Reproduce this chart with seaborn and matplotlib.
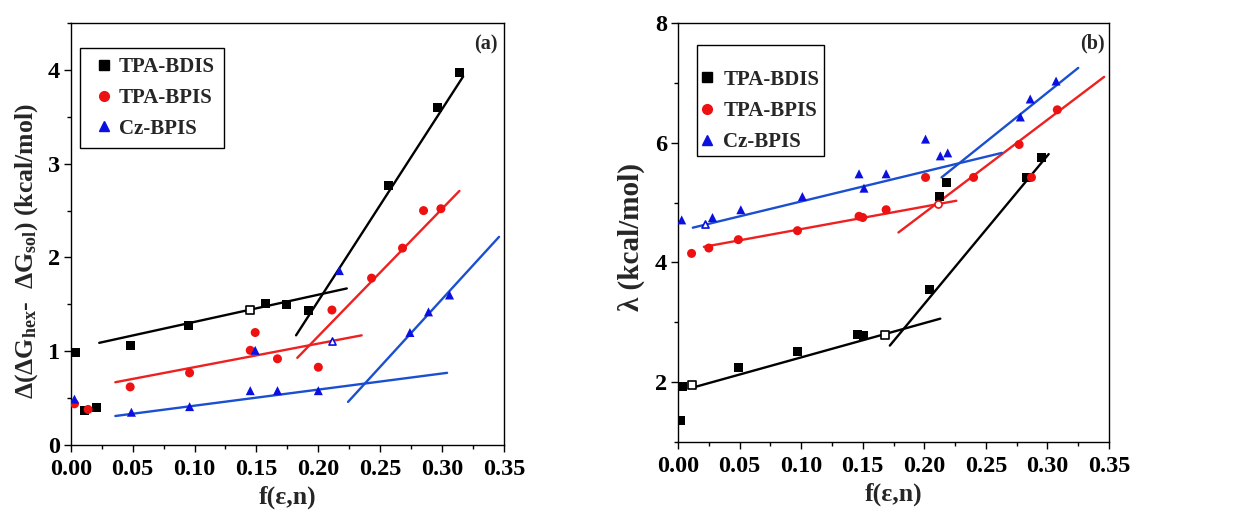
import numpy as np
import pandas as pd
import matplotlib
matplotlib.use("Agg")
import matplotlib.pyplot as plt
from matplotlib.lines import Line2D
from matplotlib.ticker import MultipleLocator
import seaborn as sns

sns.set_theme(style="ticks")
plt.rcParams['font.family'] = ['Liberation Serif', 'DejaVu Serif']
plt.rcParams['font.weight'] = 'bold'
plt.rcParams['axes.labelweight'] = 'bold'
plt.rcParams['mathtext.fontset'] = 'custom'
plt.rcParams['mathtext.rm'] = 'Liberation Serif:bold'
plt.rcParams['mathtext.bf'] = 'Liberation Serif:bold'
plt.rcParams['mathtext.it'] = 'Liberation Serif:bold:italic'

series_names = ["TPA-BDIS", "TPA-BPIS", "Cz-BPIS"]
marker_colors = ["#000000", "#ee1111", "#0a10e0"]
line_colors = ["#000000", "#ee2020", "#1a4fd0"]
markers = ["s", "o", "^"]

# ---------------- Panel (a) data ----------------
a_bdis_x = [0.0035, 0.011, 0.021, 0.048, 0.095, 0.157, 0.174, 0.192, 0.257, 0.296, 0.314]
a_bdis_y = [0.99, 0.37, 0.40, 1.06, 1.28, 1.51, 1.50, 1.43, 2.77, 3.60, 3.97]
a_bpis_x = [0.003, 0.014, 0.048, 0.096, 0.145, 0.149, 0.167, 0.200, 0.211, 0.243, 0.268, 0.285, 0.299]
a_bpis_y = [0.44, 0.38, 0.62, 0.77, 1.01, 1.20, 0.92, 0.83, 1.44, 1.78, 2.10, 2.50, 2.52]
a_cz_x = [0.003, 0.049, 0.096, 0.145, 0.149, 0.167, 0.200, 0.217, 0.274, 0.289, 0.306]
a_cz_y = [0.49, 0.35, 0.41, 0.58, 1.01, 0.58, 0.58, 1.86, 1.20, 1.42, 1.60]
# hollow points (a)
a_open_series = ["TPA-BDIS", "Cz-BPIS"]
a_open_x = [0.145, 0.211]
a_open_y = [1.44, 1.11]
# fitted segments (a): start/end values
a_fit_series = ["TPA-BDIS", "TPA-BDIS", "TPA-BPIS", "TPA-BPIS", "Cz-BPIS", "Cz-BPIS"]
a_fit_x0 = [0.023, 0.182, 0.036, 0.183, 0.036, 0.224]
a_fit_x1 = [0.223, 0.317, 0.235, 0.314, 0.304, 0.346]
a_fit_y0 = [1.09, 1.17, 0.67, 0.93, 0.31, 0.46]
a_fit_y1 = [1.67, 3.93, 1.17, 2.71, 0.77, 2.22]

# ---------------- Panel (b) data ----------------
b_bdis_x = [0.0024, 0.004, 0.049, 0.097, 0.146, 0.151, 0.204, 0.212, 0.218, 0.283, 0.295]
b_bdis_y = [1.35, 1.93, 2.24, 2.51, 2.79, 2.78, 3.54, 5.10, 5.33, 5.42, 5.76]
b_bpis_x = [0.011, 0.025, 0.049, 0.097, 0.147, 0.150, 0.169, 0.201, 0.240, 0.277, 0.287, 0.308]
b_bpis_y = [4.15, 4.24, 4.38, 4.53, 4.77, 4.75, 4.88, 5.42, 5.42, 5.97, 5.42, 6.55]
b_cz_x = [0.003, 0.028, 0.051, 0.101, 0.147, 0.151, 0.169, 0.201, 0.213, 0.219, 0.278, 0.286, 0.307]
b_cz_y = [4.71, 4.75, 4.88, 5.10, 5.48, 5.24, 5.48, 6.06, 5.78, 5.83, 6.43, 6.73, 7.03]
# hollow points (b)
b_open_series = ["TPA-BDIS", "TPA-BDIS", "TPA-BPIS", "Cz-BPIS"]
b_open_x = [0.011, 0.168, 0.211, 0.022]
b_open_y = [1.95, 2.79, 4.98, 4.64]
# fitted segments (b)
b_fit_series = ["TPA-BDIS", "TPA-BDIS", "TPA-BPIS", "TPA-BPIS", "Cz-BPIS", "Cz-BPIS"]
b_fit_x0 = [0.014, 0.172, 0.021, 0.179, 0.012, 0.214]
b_fit_x1 = [0.213, 0.301, 0.226, 0.346, 0.263, 0.325]
b_fit_y0 = [1.92, 2.61, 4.26, 4.50, 4.58, 5.42]
b_fit_y1 = [3.06, 5.81, 5.03, 7.10, 5.83, 7.25]

x_ticks = [0.00, 0.05, 0.10, 0.15, 0.20, 0.25, 0.30, 0.35]
x_tick_labels = ["0.00", "0.05", "0.10", "0.15", "0.20", "0.25", "0.30", "0.35"]
a_y_ticks = [0, 1, 2, 3, 4]
b_y_ticks = [2, 4, 6, 8]

pal_m = dict(zip(series_names, marker_colors))
pal_l = dict(zip(series_names, line_colors))
mk = dict(zip(series_names, markers))


def points_df(xs, ys):
    rows = []
    for name, x, y in zip(series_names, xs, ys):
        for xi, yi in zip(x, y):
            rows.append((name, xi, yi))
    return pd.DataFrame(rows, columns=["series", "x", "y"])


def fit_df(series, x0, x1, y0, y1):
    rows = []
    for i, (s, a, b, c, d) in enumerate(zip(series, x0, x1, y0, y1)):
        rows.append((s, i, a, c))
        rows.append((s, i, b, d))
    return pd.DataFrame(rows, columns=["series", "seg", "x", "y"])


fig = plt.figure(figsize=(12.35, 5.23), dpi=100)
axA = fig.add_axes([0.0573, 0.149, 0.3508, 0.807])
axB = fig.add_axes([0.549, 0.155, 0.349, 0.801])

panels = [
    dict(ax=axA,
         pdf=points_df([a_bdis_x, a_bpis_x, a_cz_x], [a_bdis_y, a_bpis_y, a_cz_y]),
         fdf=fit_df(a_fit_series, a_fit_x0, a_fit_x1, a_fit_y0, a_fit_y1),
         opens=(a_open_series, a_open_x, a_open_y), ylim=(0, 4.5), yt=a_y_ticks,
         yminor=0.5, ylabel=r"Δ(ΔG$_{\mathrm{hex}}$-  ΔG$_{\mathrm{sol}}$) (kcal/mol)",
         ylsize=18.5, ylc=(-0.071, 0.46), tag="(a)", tagx=0.985,
         legpos=(0.021, 0.941), lspace=0.51, bpad=0.45, hlen=1.4, htp=0.02,
         title=None, tsize=None),
    dict(ax=axB,
         pdf=points_df([b_bdis_x, b_bpis_x, b_cz_x], [b_bdis_y, b_bpis_y, b_cz_y]),
         fdf=fit_df(b_fit_series, b_fit_x0, b_fit_x1, b_fit_y0, b_fit_y1),
         opens=(b_open_series, b_open_x, b_open_y), ylim=(1, 8), yt=b_y_ticks,
         yminor=1, ylabel="λ (kcal/mol)",
         ylsize=21, ylc=(-0.076, 0.49), tag="(b)", tagx=0.99,
         legpos=(0.045, 0.947), lspace=0.54, bpad=0.2, hlen=0.5, htp=0.55,
         title=" ", tsize=7),
]

for p in panels:
    ax = p["ax"]
    sns.lineplot(data=p["fdf"], x="x", y="y", hue="series", units="seg", estimator=None,
                 palette=pal_l, sort=False, legend=False, linewidth=1.7, ax=ax)
    sns.scatterplot(data=p["pdf"], x="x", y="y", hue="series", style="series",
                    palette=pal_m, markers=mk, s=42, linewidth=0, legend=False,
                    ax=ax, zorder=3)
    for s, x, y in zip(*p["opens"]):
        sns.scatterplot(x=[x], y=[y], marker=mk[s], s=26, color="white",
                        edgecolor=pal_m[s], linewidth=1.2, legend=False, ax=ax, zorder=3)

    ax.set_xlim(0, 0.35)
    ax.set_ylim(*p["ylim"])
    ax.set_xticks(x_ticks)
    ax.set_xticklabels(x_tick_labels)
    ax.set_yticks(p["yt"])
    ax.set_yticklabels([str(v) for v in p["yt"]])
    ax.xaxis.set_minor_locator(MultipleLocator(0.025))
    ax.yaxis.set_minor_locator(MultipleLocator(p["yminor"]))
    ax.tick_params(axis="both", which="major", direction="out", length=5, width=1.0,
                   labelsize=17.5, color="black", labelcolor="black")
    ax.tick_params(axis="x", which="major", pad=5)
    ax.tick_params(axis="y", which="major", pad=3)
    ax.tick_params(axis="both", which="minor", direction="out", length=3, width=1.0,
                   color="black")
    for sp in ax.spines.values():
        sp.set_visible(True)
        sp.set_color("black")
        sp.set_linewidth(1.0)
    ax.set_xlabel("f(ε,n)", fontsize=18.5, fontweight="bold", labelpad=4)
    ax.set_ylabel(p["ylabel"], fontsize=p["ylsize"], fontweight="bold")
    ax.yaxis.set_label_coords(*p["ylc"])
    ax.text(p["tagx"], 0.95, p["tag"], transform=ax.transAxes, ha="right", va="center",
            fontsize=14.5, fontweight="bold")

    handles = [Line2D([0], [0], marker=mk[s], color="none", markerfacecolor=pal_m[s],
                      markeredgecolor=pal_m[s], markersize=7, linestyle="none")
               for s in series_names]
    leg_kw = dict(loc="upper left", bbox_to_anchor=p["legpos"],
                  frameon=True, fancybox=False, edgecolor="black", framealpha=1,
                  prop={"family": "Liberation Serif", "weight": "bold", "size": 15},
                  handletextpad=p["htp"], labelspacing=p["lspace"],
                  borderpad=p["bpad"], handlelength=p["hlen"], borderaxespad=0)
    if p["title"] is not None:
        leg_kw.update(title=p["title"], title_fontsize=p["tsize"])
    leg = ax.legend(handles, series_names, **leg_kw)
    leg.get_frame().set_linewidth(1.0)

fig.savefig("out.png", dpi=100)
